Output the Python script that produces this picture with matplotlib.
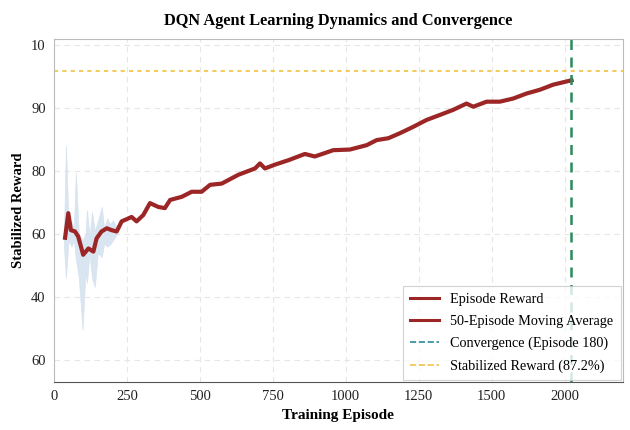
import matplotlib
matplotlib.use('Agg')
import matplotlib.pyplot as plt
import numpy as np
from matplotlib.lines import Line2D

plt.rcParams['font.family'] = ['Liberation Serif', 'DejaVu Serif']

# 50-episode moving average
ma_x = [38, 49, 58, 72, 83, 100, 118, 135, 146, 163, 181, 198, 215, 232, 266, 283,
        306, 329, 357, 380, 398, 438, 472, 506, 535, 575, 632, 689, 706, 723, 757,
        803, 860, 894, 957, 1014, 1072, 1106, 1146, 1186, 1231, 1277, 1323, 1368,
        1414, 1437, 1483, 1528, 1574, 1620, 1666, 1711, 1774]
ma_y = [69.4, 73.3, 70.6, 70.4, 69.6, 66.7, 67.7, 67.2, 69.3, 70.4, 70.9, 70.6, 70.4,
        72.0, 72.7, 72.0, 73.0, 74.9, 74.3, 74.1, 75.4, 75.9, 76.7, 76.7, 77.8, 78.0,
        79.4, 80.4, 81.2, 80.4, 81.0, 81.7, 82.7, 82.3, 83.3, 83.4, 84.1, 84.9, 85.2,
        86.0, 87.0, 88.1, 88.9, 89.7, 90.7, 90.2, 91.0, 91.0, 91.5, 92.3, 92.9, 93.7,
        94.4]

# raw episode reward spread (early episodes)
band_x = [34, 41, 50, 60, 68, 75, 85, 98, 108, 113, 122, 130, 140, 150, 164, 172,
          182, 192, 202, 216]
band_hi = [70, 84, 71.5, 72, 71, 79.7, 70, 69, 70, 73.8, 69.5, 73.5, 70.5, 72, 74.3,
           70.8, 72.5, 71.5, 72.2, 71]
band_lo = [68, 63, 69, 68, 69, 66, 63, 54.8, 64, 62.2, 67, 63, 61.6, 67, 66.3, 68.5,
           68, 68.3, 69, 70]

convergence_ep = 1772
stable_reward = 95.8

xticks = [0, 250, 500, 750, 1000, 1250, 1500, 1750]
xlabels = ['0', '250', '500', '750', '1000', '1250', '1500', '2000']
yticks = [100, 90, 80, 70, 60, 50]
ylabels = ['10', '90', '80', '60', '40', '60']

red = '#9c2526'
fig = plt.figure(figsize=(6.3, 4.3), dpi=100)
ax = fig.add_axes([0.0857, 0.1116, 0.903, 0.7977])

ax.fill_between(band_x, band_lo, band_hi, color='#d3e1ee', alpha=0.85, lw=0.5)
ax.plot(ma_x, ma_y, color=red, lw=3.0, solid_joinstyle='round')
ax.axvline(convergence_ep, color='#2a8a5a', ls=(0, (4, 3)), lw=1.8)
ax.axhline(stable_reward, color='#f3cd5c', ls=(0, (2, 2)), lw=1.5)

ax.set_xlim(0, 1950)
ax.set_ylim(46.5, 100.95)
ax.set_xticks(xticks)
ax.set_xticklabels(xlabels)
ax.set_yticks(yticks)
ax.set_yticklabels(ylabels)
ax.tick_params(length=0, labelsize=10.5, colors='#222222', pad=6)
ax.grid(True, ls=(0, (5, 4)), color='#e6e6e6', lw=0.8)
ax.set_axisbelow(True)
for s in ['top', 'right', 'left']:
    ax.spines[s].set_color('#bbbbbb')
ax.spines['bottom'].set_color('#555555')

ax.set_title('DQN Agent Learning Dynamics and Convergence', fontsize=11.8,
             fontweight='bold', pad=10)
ax.set_xlabel('Training Episode', fontsize=11, fontweight='bold', labelpad=4)
ax.set_ylabel('Stabilized Reward', fontsize=10.5, fontweight='bold', labelpad=4)

handles = [
    Line2D([], [], color=red, lw=2.2),
    Line2D([], [], color=red, lw=2.2),
    Line2D([], [], color='#2a8a9a', ls='--', lw=1.2),
    Line2D([], [], color='#f0c24a', ls='--', lw=1.2),
]
labels = ['Episode Reward', '50-Episode Moving Average',
          'Convergence (Episode 180)', 'Stabilized Reward (87.2%)']
leg = ax.legend(handles, labels, loc='lower right', fontsize=10.3, frameon=True,
                fancybox=False, edgecolor='#c8c8c8', borderaxespad=0.15,
                handlelength=2.0, labelspacing=0.62, borderpad=0.5)
leg.get_frame().set_linewidth(0.8)

fig.savefig('out.png', dpi=100)
